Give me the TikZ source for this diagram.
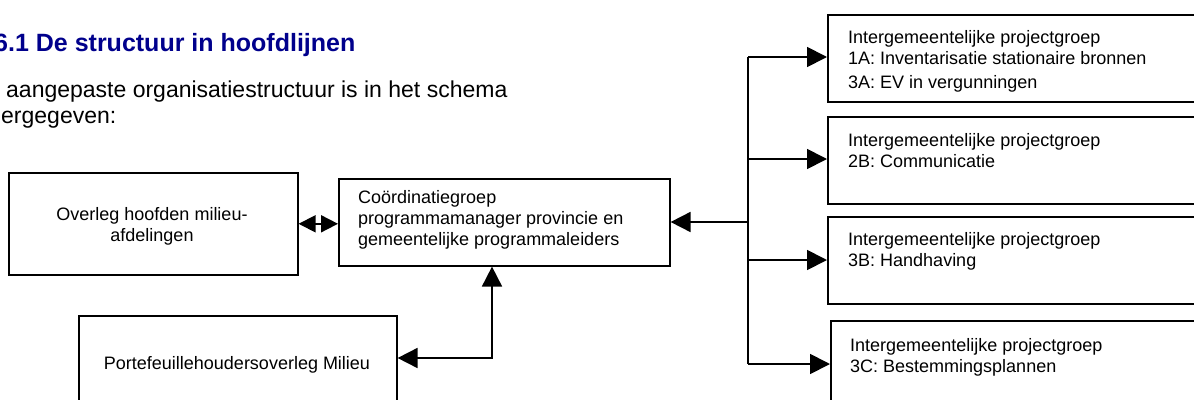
\documentclass[tikz,border=0pt]{standalone}
\usepackage{fontspec}
\setmainfont{Liberation Sans}
\usetikzlibrary{arrows.meta}
\definecolor{titleblue}{RGB}{0,0,140}
\begin{document}
\begin{tikzpicture}[x=1pt,y=-1pt,
  box/.style={draw,line width=1.6pt,inner sep=0pt,anchor=north west},
  ltxt/.style={anchor=base west,inner sep=0pt,align=left,font=\fontsize{18}{21}\selectfont},
  ctxt/.style={anchor=base,inner sep=0pt,align=center,font=\fontsize{18}{21}\selectfont},
  conn/.style={line width=1.8pt},
  tip/.style={-{Triangle[length=20pt,width=20pt]}},
  twotips/.style={{Triangle[length=20pt,width=20pt]}-{Triangle[length=20pt,width=20pt]}},
  smalltips/.style={{Triangle[length=17pt,width=17pt]}-{Triangle[length=17pt,width=17pt]}},
  ]
\useasboundingbox (0,0) rectangle (1194,399);
\clip (0,0) rectangle (1194,399);

% heading and paragraph
\node[anchor=base west,inner sep=0pt,font=\fontsize{25}{28}\selectfont\bfseries,text=titleblue] (title) at (-6,51) {6.1 De structuur in hoofdlijnen};
\node[anchor=base west,inner sep=0pt,font=\fontsize{23}{27}\selectfont] (p1) at (6,97) {aangepaste organisatiestructuur is in het schema};
\node[anchor=base west,inner sep=0pt,font=\fontsize{23}{27}\selectfont] (p2) at (1,123) {ergegeven:};

% boxes
\node[box,minimum width=289pt,minimum height=102pt] (A) at (8,172) {};
\node[box,minimum width=331pt,minimum height=87pt] (C) at (338,178) {};
\node[box,minimum width=318pt,minimum height=110pt] (P) at (78,315) {};
\node[box,minimum width=420pt,minimum height=87pt] (R1) at (827,14) {};
\node[box,minimum width=420pt,minimum height=87pt] (R2) at (827,116) {};
\node[box,minimum width=420pt,minimum height=87pt] (R3) at (827,216) {};
\node[box,minimum width=420pt,minimum height=110pt] (R4) at (830,320) {};

% texts (anchor = baseline of the last line)
\node[ctxt] (tA) at (152,241) {Overleg hoofden milieu-\\afdelingen};
\node[ltxt] (tC) at (358,245) {Coördinatiegroep\\programmamanager provincie en\\gemeentelijke programmaleiders};
\node[ctxt] (tP) at (237,369) {Portefeuillehoudersoverleg Milieu};
\node[ltxt] (t1) at (848,88) {Intergemeentelijke projectgroep\\1A: Inventarisatie stationaire bronnen\\[3pt]3A: EV in vergunningen};
\node[ltxt] (t2) at (848,167) {Intergemeentelijke projectgroep\\2B: Communicatie};
\node[ltxt] (t3) at (848,266) {Intergemeentelijke projectgroep\\3B: Handhaving};
\node[ltxt] (t4) at (850,372) {Intergemeentelijke projectgroep\\3C: Bestemmingsplannen};

% connectors
\draw[conn,smalltips] (A.east) -- (A.east -| C.west);

\coordinate (bC) at (748,222);
\coordinate (b1) at (748,57);
\coordinate (b2) at (748,159);
\coordinate (b3) at (748,260);
\coordinate (b4) at (748,364);
\draw[conn] (b1) -- (b4);
\draw[conn,tip] (bC) -- (bC -| C.east);
\draw[conn,tip] (b1) -- (b1 -| R1.west);
\draw[conn,tip] (b2) -- (b2 -| R2.west);
\draw[conn,tip] (b3) -- (b3 -| R3.west);
\draw[conn,tip] (b4) -- (b4 -| R4.west);

\coordinate (k) at (492,358);
\draw[conn,twotips] (k -| P.east) -- (k) -- (k |- C.south);
\end{tikzpicture}
\end{document}
